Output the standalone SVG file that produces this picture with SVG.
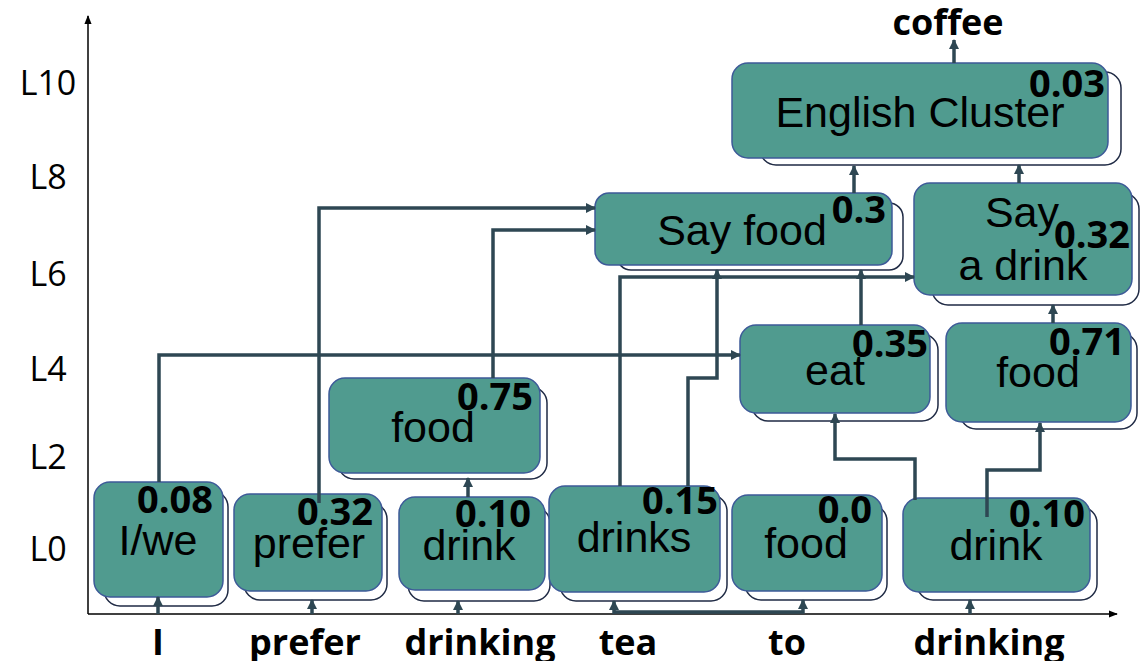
<svg xmlns="http://www.w3.org/2000/svg" width="1142" height="661" viewBox="0 0 1142 661">
<style>
.bg{fill:#ffffff}
.front{fill:#509b8f;stroke:#3d5a98;stroke-width:1.5}
.shadow{fill:#ffffff;stroke:#1f2a44;stroke-width:1.5}
.lbl{font-family:"Liberation Sans",Arial,sans-serif;font-size:43px;fill:#000;text-anchor:middle}
.num{font-family:"Open Sans","Liberation Sans",sans-serif;font-weight:bold;font-size:38px;fill:#000;text-anchor:end}
.tok{font-family:"Open Sans","Liberation Sans",sans-serif;font-weight:bold;font-size:36px;fill:#000;text-anchor:middle}
.lvl{font-family:"Open Sans","Liberation Sans",sans-serif;font-size:34px;fill:#000;text-anchor:middle}
.axis{fill:none;stroke:#000;stroke-width:1.5}
.con{fill:none;stroke:#2e4753;stroke-width:3.5}
</style>
<defs>
<marker id="ah" viewBox="0 0 10 10" refX="9" refY="5" markerWidth="10" markerHeight="10" markerUnits="userSpaceOnUse" orient="auto">
<path d="M0,0 L10,5 L0,10 z" fill="#2e4753"/>
</marker>
<marker id="axh" viewBox="0 0 10 10" refX="9" refY="5" markerWidth="9" markerHeight="9" markerUnits="userSpaceOnUse" orient="auto">
<path d="M0,1 L10,5 L0,9 z" fill="#000"/>
</marker>
</defs>
<rect class="bg" x="0" y="0" width="1142" height="661"/>
<g id="axes">
<path class="axis" d="M88,614 V16" marker-end="url(#axh)"/>
<path class="axis" d="M88,614 H1117" marker-end="url(#axh)"/>
<text class="lvl" x="48" y="95">L10</text>
<text class="lvl" x="48" y="189">L8</text>
<text class="lvl" x="48" y="286">L6</text>
<text class="lvl" x="48" y="381">L4</text>
<text class="lvl" x="48" y="469">L2</text>
<text class="lvl" x="48" y="561">L0</text>
</g>
<g id="tokens">
<text class="tok" x="158" y="655">I</text>
<text class="tok" x="305" y="655">prefer</text>
<text class="tok" x="480" y="655">drinking</text>
<text class="tok" x="628" y="655">tea</text>
<text class="tok" x="787" y="655">to</text>
<text class="tok" x="989" y="655">drinking</text>
<text class="tok" x="948" y="35">coffee</text>
</g>
<g id="n-iwe">
<rect class="shadow" x="104" y="491" width="124" height="115" rx="16"/>
<rect class="front" x="94" y="482" width="129" height="115" rx="16"/>
<text class="lbl" x="158" y="555">I/we</text>
<text class="num" x="213" y="513">0.08</text>
</g>
<g id="n-prefer">
<rect class="shadow" x="244" y="503" width="143" height="97" rx="16"/>
<rect class="front" x="234" y="494" width="148" height="97" rx="16"/>
<text class="lbl" x="309" y="558">prefer</text>
<text class="num" x="373" y="525">0.32</text>
</g>
<g id="n-drink0">
<rect class="shadow" x="408" y="507" width="142" height="94" rx="16"/>
<rect class="front" x="399" y="497" width="146" height="93" rx="16"/>
<text class="lbl" x="469" y="560">drink</text>
<text class="num" x="531" y="527">0.10</text>
</g>
<g id="n-food2">
<rect class="shadow" x="338" y="387" width="209" height="92" rx="16"/>
<rect class="front" x="329" y="378" width="211" height="95" rx="16"/>
<text class="lbl" x="433" y="442">food</text>
<text class="num" x="533" y="410">0.75</text>
</g>
<g id="n-drinks">
<rect class="shadow" x="560" y="495" width="167" height="106" rx="16"/>
<rect class="front" x="549" y="486" width="171" height="106" rx="16"/>
<text class="lbl" x="634" y="552">drinks</text>
<text class="num" x="718" y="514">0.15</text>
</g>
<g id="n-foodto">
<rect class="shadow" x="745" y="505" width="142" height="95" rx="16"/>
<rect class="front" x="732" y="495" width="150" height="96" rx="16"/>
<text class="lbl" x="806" y="558">food</text>
<text class="num" x="872" y="523">0.0</text>
</g>
<g id="n-drinkR">
<rect class="shadow" x="917" y="507" width="180" height="93" rx="16"/>
<rect class="front" x="903" y="498" width="187" height="94" rx="16"/>
<text class="lbl" x="996" y="560">drink</text>
<text class="num" x="1085" y="527">0.10</text>
</g>
<g id="n-eat">
<rect class="shadow" x="752" y="334" width="186" height="87" rx="16"/>
<rect class="front" x="740" y="325" width="190" height="88" rx="16"/>
<text class="lbl" x="835" y="385">eat</text>
<text class="num" x="928" y="357">0.35</text>
</g>
<g id="n-food4">
<rect class="shadow" x="960" y="333" width="177" height="96" rx="16"/>
<rect class="front" x="946" y="323" width="185" height="99" rx="16"/>
<text class="lbl" x="1038" y="387">food</text>
<text class="num" x="1125" y="355">0.71</text>
</g>
<g id="n-sayfood">
<rect class="shadow" x="617" y="203" width="286" height="67" rx="14"/>
<rect class="front" x="595" y="193" width="297" height="72" rx="14"/>
<text class="lbl" x="742" y="245">Say food</text>
<text class="num" x="886" y="223">0.3</text>
</g>
<g id="n-saydrink">
<rect class="shadow" x="932" y="193" width="207" height="112" rx="16"/>
<rect class="front" x="914" y="183" width="218" height="112" rx="16"/>
<text class="lbl" x="1022" y="227">Say</text>
<text class="lbl" x="1023" y="280">a drink</text>
<text class="num" x="1130" y="248">0.32</text>
</g>
<g id="n-english">
<rect class="shadow" x="760" y="72" width="361" height="93" rx="16"/>
<rect class="front" x="732" y="63" width="376" height="95" rx="16"/>
<text class="lbl" x="920" y="127">English Cluster</text>
<text class="num" x="1105" y="97">0.03</text>
</g>
<g id="connectors">
<path class="con" d="M158,614 V597" marker-end="url(#ah)"/>
<path class="con" d="M312,614 V600" marker-end="url(#ah)"/>
<path class="con" d="M458,614 V601" marker-end="url(#ah)"/>
<path class="con" d="M614,614 V601" marker-end="url(#ah)"/>
<path class="con" d="M614,612 H803 V600" marker-end="url(#ah)"/>
<path class="con" d="M970,614 V600" marker-end="url(#ah)"/>
<path class="con" d="M159,482 V355 H740" marker-end="url(#ah)"/>
<path class="con" d="M319,503 V208 H595" marker-end="url(#ah)"/>
<path class="con" d="M468,497 V478" marker-end="url(#ah)"/>
<path class="con" d="M493,378 V230 H595" marker-end="url(#ah)"/>
<path class="con" d="M620,486 V277 H914" marker-end="url(#ah)"/>
<path class="con" d="M688,486 V378 H717 V270" marker-end="url(#ah)"/>
<path class="con" d="M861,325 V270" marker-end="url(#ah)"/>
<path class="con" d="M915,500 V459 H835 V414" marker-end="url(#ah)"/>
<path class="con" d="M987,517 V470 H1040 V423" marker-end="url(#ah)"/>
<path class="con" d="M1053,323 V305" marker-end="url(#ah)"/>
<path class="con" d="M854,193 V166" marker-end="url(#ah)"/>
<path class="con" d="M1019,183 V165" marker-end="url(#ah)"/>
<path class="con" d="M954,63 V40" marker-end="url(#ah)"/>
</g>
</svg>
